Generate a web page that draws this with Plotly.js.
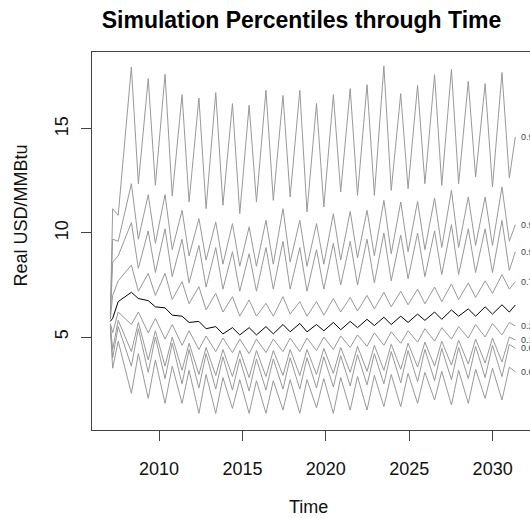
<!DOCTYPE html>
<html>
<head>
<meta charset="utf-8">
<script src="https://cdn.plot.ly/plotly-3.0.1.min.js"></script>
<style>
html,body{margin:0;padding:0;overflow:hidden;background:#fff;}
#chart{width:545px;height:518px;}
</style>
</head>
<body>
<div id="chart"></div>
<script>
// Time points (decimal years): start, then alternating winter-spike / calm points, then end
const time = [2007.08, 2007.22, 2007.55, 2008.34, 2008.76, 2009.35, 2009.78, 2010.36, 2010.79, 2011.38, 2011.80,
  2012.39, 2012.82, 2013.40, 2013.83, 2014.40, 2014.84, 2015.40, 2015.84, 2016.41, 2016.85, 2017.43, 2017.86,
  2018.44, 2018.87, 2019.44, 2019.88, 2020.45, 2020.89, 2021.46, 2021.90, 2022.47, 2022.91, 2023.48, 2023.92,
  2024.49, 2024.93, 2025.50, 2025.94, 2026.52, 2026.95, 2027.53, 2027.96, 2028.54, 2028.98, 2029.55, 2029.99,
  2030.56, 2031.00, 2031.36];

const p99 = [6.1, 11.17, 10.85, 17.98, 12.37, 17.42, 12.29, 17.63, 11.78, 16.65, 11.49, 16.49, 11.17, 16.75, 11.33,
  16.22, 10.93, 16.14, 11.49, 16.86, 11.57, 16.61, 11.73, 16.86, 11.01, 16.22, 11.25, 16.65, 11.97, 16.94, 11.81,
  17.13, 11.81, 18.03, 12.05, 16.70, 12.13, 17.10, 12.37, 17.61, 12.29, 17.87, 12.37, 17.29, 12.69, 17.18, 12.21,
  17.71, 12.64, 14.62];
const p95 = [6.0, 9.7, 9.6, 12.37, 9.7, 11.84, 9.5, 11.84, 9.2, 11.09, 8.9, 10.69, 8.7, 10.53, 8.5, 10.45, 8.4,
  10.29, 8.4, 10.61, 8.5, 11.17, 8.6, 10.61, 8.4, 10.45, 8.5, 10.93, 8.7, 11.04, 8.8, 11.09, 8.9, 11.57, 9.0,
  11.49, 9.1, 11.52, 9.2, 11.68, 9.3, 12.05, 9.3, 11.73, 9.4, 11.73, 9.4, 12.21, 9.6, 10.4];
const p90 = [5.95, 8.6, 8.9, 10.5, 8.3, 10.1, 8.1, 10.2, 7.9, 9.7, 7.6, 9.4, 7.4, 9.3, 7.3, 9.1, 7.2, 9.0, 7.2,
  9.3, 7.3, 9.6, 7.3, 9.3, 7.2, 9.2, 7.3, 9.5, 7.5, 9.6, 7.5, 9.7, 7.6, 10.0, 7.7, 9.9, 7.8, 10.0, 7.9, 10.1, 8.0,
  10.4, 8.0, 10.2, 8.1, 10.2, 8.1, 10.6, 8.2, 9.1];
const p75 = [5.85, 7.0, 7.7, 8.46, 7.2, 8.06, 7.0, 8.06, 6.8, 7.66, 6.6, 7.42, 6.3, 7.1, 6.2, 6.94, 6.0, 6.78, 6.0,
  6.62, 6.0, 6.94, 6.1, 6.70, 6.0, 6.7, 6.05, 6.85, 6.2, 6.9, 6.25, 7.0, 6.35, 7.15, 6.45, 7.2, 6.55, 7.3, 6.6,
  7.4, 6.7, 7.55, 6.8, 7.6, 6.9, 7.7, 7.1, 8.0, 7.3, 7.66];
const p50 = [5.75, 5.9, 6.7, 7.15, 6.85, 6.75, 6.45, 6.4, 6.05, 6.0, 5.7, 5.75, 5.4, 5.5, 5.15, 5.45, 5.1, 5.45, 5.1,
  5.5, 5.15, 5.6, 5.25, 5.65, 5.25, 5.6, 5.3, 5.7, 5.35, 5.75, 5.45, 5.85, 5.55, 5.95, 5.6, 6.0, 5.7, 6.1, 5.8,
  6.2, 5.85, 6.3, 6.0, 6.35, 6.0, 6.45, 6.1, 6.55, 6.2, 6.54];
const p25 = [5.65, 5.2, 6.2, 5.6, 6.2, 5.2, 5.9, 4.9, 5.6, 4.6, 5.3, 4.4, 5.05, 4.3, 4.95, 4.25, 4.9, 4.2, 4.9,
  4.25, 4.9, 4.3, 4.95, 4.3, 4.95, 4.35, 5.0, 4.4, 5.05, 4.5, 5.1, 4.55, 5.2, 4.6, 5.25, 4.7, 5.3, 4.75, 5.4,
  4.8, 5.45, 4.9, 5.5, 4.95, 5.6, 5.0, 5.65, 5.1, 5.7, 5.53];
const p10 = [5.55, 4.4, 5.8, 4.3, 5.7, 3.9, 5.3, 3.6, 5.0, 3.4, 4.7, 3.2, 4.5, 3.15, 4.4, 3.1, 4.35, 3.05, 4.35,
  3.1, 4.35, 3.15, 4.4, 3.15, 4.4, 3.2, 4.45, 3.25, 4.5, 3.3, 4.55, 3.35, 4.6, 3.4, 4.65, 3.45, 4.7, 3.55, 4.75,
  3.6, 4.8, 3.65, 4.85, 3.7, 4.9, 3.75, 4.95, 3.8, 5.0, 4.86];
const p05 = [5.5, 4.0, 5.5, 3.6, 5.4, 3.3, 5.0, 3.0, 4.7, 2.75, 4.4, 2.55, 4.2, 2.5, 4.05, 2.45, 3.95, 2.4, 3.95,
  2.45, 3.95, 2.5, 4.0, 2.5, 4.0, 2.55, 4.05, 2.6, 4.1, 2.65, 4.15, 2.7, 4.2, 2.75, 4.3, 2.8, 4.35, 2.85, 4.4,
  2.9, 4.45, 2.95, 4.5, 3.0, 4.55, 3.05, 4.6, 3.1, 4.65, 4.45];
const p01 = [5.4, 3.5, 4.8, 2.29, 4.2, 2.05, 3.9, 1.81, 3.6, 1.81, 3.4, 1.33, 3.2, 1.33, 3.05, 1.57, 2.95, 1.33, 2.9,
  1.33, 2.9, 1.49, 2.95, 1.33, 2.95, 1.6, 3.0, 1.33, 3.05, 1.49, 3.1, 1.49, 3.15, 1.65, 3.2, 1.65, 3.25, 1.81, 3.3,
  1.97, 3.35, 1.73, 3.4, 1.81, 3.45, 2.05, 3.5, 1.97, 3.55, 3.33];

const greySeries = [p99, p95, p90, p75, p25, p10, p05, p01];
const greyNames = ["0.99", "0.95", "0.9", "0.75", "0.25", "0.1", "0.05", "0.01"];
const xTicks = [2010, 2015, 2020, 2025, 2030];
const yTicks = [5, 10, 15];

const FONT = "Liberation Sans, Arial, Helvetica, sans-serif";
const W = 545, H = 518;
const mL = 92, mR = 12, mT = 52, mB = 88;
const pw = W - mL - mR, ph = H - mT - mB;
const px = v => (v - mL) / pw;           // pixel x -> paper
const py = v => 1 - (v - mT) / ph;       // pixel y -> paper

const traces = greySeries.map((s, i) => ({
  x: time, y: s, type: "scatter", mode: "lines", name: greyNames[i],
  line: {color: "#999999", width: 1}, hoverinfo: "skip"
}));
traces.push({x: time, y: p50, type: "scatter", mode: "lines", name: "0.5",
  line: {color: "#000000", width: 1}, hoverinfo: "skip"});

const annotations = greySeries.map((s, i) => ({
  x: 2031.6, y: s[s.length - 1], xref: "x", yref: "y", text: greyNames[i],
  showarrow: false, xanchor: "left", yanchor: "middle",
  font: {family: FONT, size: 9, color: "#444"}
}));
annotations.push({
  x: px(20.5), y: py(216), xref: "paper", yref: "paper", text: "Real USD/MMBtu",
  showarrow: false, textangle: -90, xanchor: "center", yanchor: "middle",
  font: {family: FONT, size: 18, color: "#111"}
});
annotations.push({
  x: px(308), y: py(507), xref: "paper", yref: "paper", text: "Time",
  showarrow: false, xanchor: "center", yanchor: "middle",
  font: {family: FONT, size: 18, color: "#111"}
});

const axisCommon = {
  showgrid: false, zeroline: false, showline: true, mirror: true,
  linecolor: "#444", linewidth: 1, ticks: "outside", ticklen: 10,
  tickcolor: "#444", tickwidth: 1,
  tickfont: {family: FONT, size: 18, color: "#111"}, fixedrange: true
};

const layout = {
  width: W, height: H,
  margin: {l: mL, r: mR, t: mT, b: mB, pad: 0},
  paper_bgcolor: "#fff", plot_bgcolor: "#fff",
  showlegend: false,
  title: {
    text: "<b>Simulation Percentiles through Time</b>",
    font: {family: FONT, size: 23, color: "#000"},
    xref: "container", yref: "container",
    x: 301.5 / W, y: 1 - 20 / H, xanchor: "center", yanchor: "middle"
  },
  xaxis: Object.assign({}, axisCommon, {
    range: [2005.98, 2032.42], tickmode: "array", tickvals: xTicks,
    ticktext: xTicks.map(String), ticklabelstandoff: 12
  }),
  yaxis: Object.assign({}, axisCommon, {
    range: [0.53, 18.70], tickmode: "array", tickvals: yTicks,
    ticktext: yTicks.map(String), tickangle: -90, ticklabelstandoff: 6
  }),
  annotations: annotations
};

Plotly.newPlot("chart", traces, layout, {staticPlot: true, displayModeBar: false});
</script>
</body>
</html>
